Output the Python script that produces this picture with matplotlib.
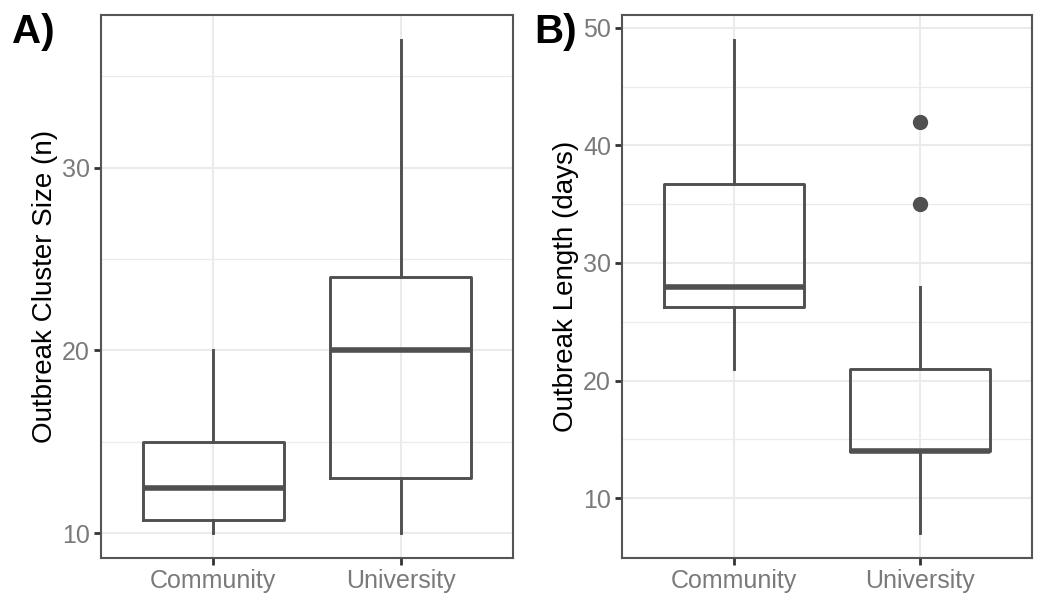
import matplotlib
matplotlib.use("Agg")
import matplotlib.pyplot as plt
from matplotlib.ticker import MultipleLocator

plt.rcParams['font.family'] = ['Liberation Sans', 'DejaVu Sans']

categories = ["Community", "University"]

# panel A: outbreak cluster size (n)
size_whislo = [10, 10]
size_q1 = [10.75, 13]
size_med = [12.5, 20]
size_q3 = [15, 24]
size_whishi = [20, 37]
size_fliers = [[], []]

# panel B: outbreak length (days)
len_whislo = [21, 7]
len_q1 = [26.25, 14]
len_med = [28, 14]
len_q3 = [36.75, 21]
len_whishi = [49, 28]
len_fliers = [[], [35, 42]]

BOX = "#505050"
GRID = "#ebebeb"
BORDER = "#555555"
TICKTXT = "#7a7a7a"


def make_stats(lo, q1, med, q3, hi, fl):
    return [dict(whislo=lo[i], q1=q1[i], med=med[i], q3=q3[i], whishi=hi[i],
                 fliers=fl[i], label=categories[i]) for i in range(len(categories))]


def draw(ax, stats, ylabel, ylim):
    ax.bxp(stats, positions=[1, 2], widths=0.75, showcaps=False,
           boxprops=dict(color=BOX, linewidth=2.1),
           whiskerprops=dict(color=BOX, linewidth=2.1),
           medianprops=dict(color=BOX, linewidth=4.0, solid_capstyle="butt"),
           flierprops=dict(marker="o", markerfacecolor=BOX, markeredgecolor=BOX,
                           markersize=10))
    ax.set_xlim(0.4, 2.6)
    ax.set_ylim(*ylim)
    ax.yaxis.set_major_locator(MultipleLocator(10))
    ax.yaxis.set_minor_locator(MultipleLocator(5))
    ax.grid(True, which="major", color=GRID, linewidth=1.5, zorder=0)
    ax.grid(True, which="minor", axis="y", color=GRID, linewidth=0.9, zorder=0)
    ax.set_axisbelow(True)
    for s in ax.spines.values():
        s.set_color(BORDER)
        s.set_linewidth(1.5)
    ax.tick_params(axis="both", which="major", direction="out", length=5, width=2,
                   color="#333333", labelsize=18, labelcolor=TICKTXT, pad=3)
    ax.tick_params(axis="y", which="minor", length=0)
    ax.set_xticks([1, 2])
    ax.set_xticklabels(categories)
    ax.set_ylabel(ylabel, fontsize=20, color="black", labelpad=3)


fig = plt.figure(figsize=(10.37, 5.98), dpi=100)
axA = fig.add_axes([0.0974, 0.0669, 0.3973, 0.908])
axB = fig.add_axes([0.5998, 0.0669, 0.3954, 0.908])

draw(axA, make_stats(size_whislo, size_q1, size_med, size_q3, size_whishi, size_fliers),
     "Outbreak Cluster Size (n)", (8.65, 38.35))
draw(axB, make_stats(len_whislo, len_q1, len_med, len_q3, len_whishi, len_fliers),
     "Outbreak Length (days)", (4.9, 51.1))

fig.text(0.012, 0.946, "A)", fontsize=29, fontweight="bold", va="center", ha="left")
fig.text(0.515, 0.946, "B)", fontsize=29, fontweight="bold", va="center", ha="left")

fig.savefig("out.png", dpi=100)
